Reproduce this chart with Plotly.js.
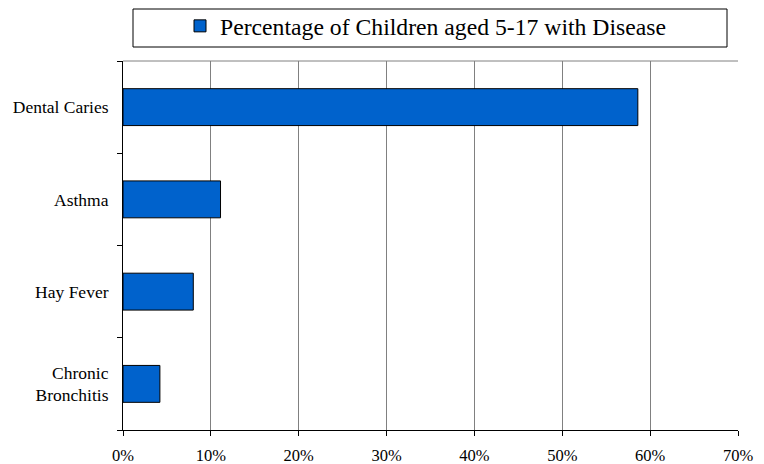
<!DOCTYPE html>
<html>
<head>
<meta charset="utf-8">
<script src="https://cdn.plot.ly/plotly-3.0.1.min.js"></script>
<style>html,body{margin:0;padding:0;background:#fff;}#chart{width:764px;height:464px;}</style>
</head>
<body>
<div id="chart"></div>
<script>
var categories = ["Dental Caries", "Asthma", "Hay Fever", "Chronic<br>Bronchitis"];
var values = [0.586, 0.111, 0.080, 0.042];
var seriesName = "Percentage of Children aged 5-17 with Disease";
var xTickVals = [0, 0.1, 0.2, 0.3, 0.4, 0.5, 0.6, 0.7];
var xTickText = ["0%", "10%", "20%", "30%", "40%", "50%", "60%", "70%"];

var FONT = "Liberation Serif";

var trace = {
  type: "bar",
  orientation: "h",
  y: categories.slice().reverse(),
  x: values.slice().reverse(),
  name: seriesName,
  marker: {color: "#0062CC", line: {color: "#000000", width: 1}},
  showlegend: true
};

var layout = {
  width: 764, height: 464,
  margin: {l: 123, r: 26, t: 61, b: 34, autoexpand: false},
  paper_bgcolor: "#ffffff",
  plot_bgcolor: "#ffffff",
  font: {family: FONT, size: 16, color: "#000"},
  bargap: 0.6,
  xaxis: {
    range: [0, 0.7],
    tickvals: xTickVals,
    ticktext: xTickText,
    tickfont: {family: FONT, size: 16.5, color: "#000"},
    ticklabelstandoff: 5,
    showgrid: true,
    gridcolor: "#808080",
    gridwidth: 1,
    showline: true,
    linecolor: "#000",
    linewidth: 1,
    ticks: "outside",
    ticklen: 5,
    tickcolor: "#000",
    zeroline: false,
    automargin: false,
    fixedrange: true
  },
  yaxis: {
    type: "category",
    tickfont: {family: FONT, size: 17.5, color: "#000"},
    ticklabelstandoff: 10,
    showgrid: false,
    showline: true,
    linecolor: "#000",
    linewidth: 1,
    ticks: "outside",
    tickson: "boundaries",
    ticklen: 5,
    tickcolor: "#000",
    zeroline: false,
    automargin: false,
    fixedrange: true
  },
  showlegend: true,
  legend: {
    orientation: "h",
    x: 0.0927, xanchor: "left",
    y: 1.095, yanchor: "middle",
    bgcolor: "rgba(0,0,0,0)",
    borderwidth: 0,
    font: {family: FONT, size: 23.7, color: "#000"}
  },
  shapes: [
    {type: "rect", xref: "paper", yref: "paper", x0: (133-123)/615, x1: (727-123)/615, y0: (430-47)/369, y1: (430-9)/369,
     line: {color: "#000", width: 1}, fillcolor: "rgba(0,0,0,0)", layer: "below"},
    {type: "line", xref: "paper", yref: "paper", x0: 0, x1: 1, y0: 1, y1: 1, line: {color: "#808080", width: 1}}
  ]
};

Plotly.newPlot("chart", [trace], layout, {displayModeBar: false, staticPlot: true});
</script>
</body>
</html>
